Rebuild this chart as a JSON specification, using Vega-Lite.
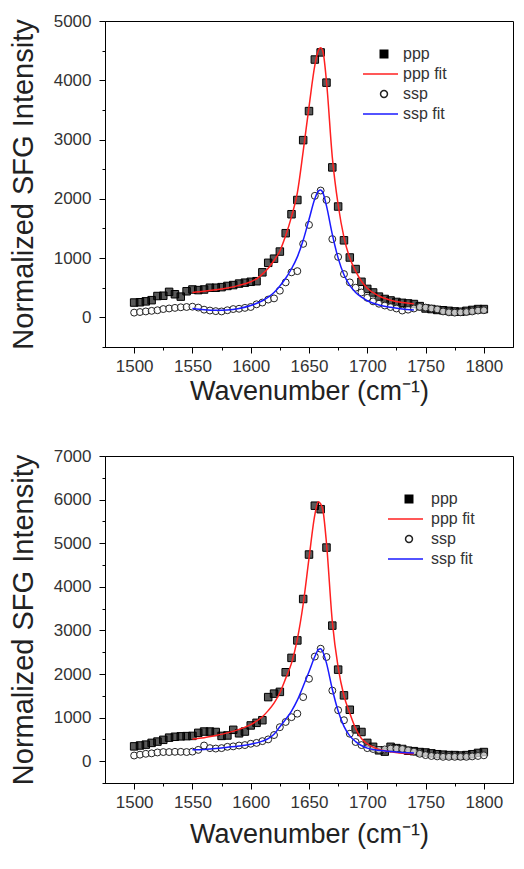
{
"$schema": "https://vega.github.io/schema/vega-lite/v6.json",
"padding": {"left": 8, "top": 11, "right": 5, "bottom": 5},
"background": "white",
"spacing": 41,
"config": {
  "view": {"stroke": "black", "strokeWidth": 1},
  "axis": {"grid": false, "labelFont": "Liberation Sans", "labelFontSize": 17, "labelColor": "#333", "titleFont": "Liberation Sans", "titleFontSize": 27, "titleFontWeight": "normal", "titleColor": "#222", "domainColor": "black", "tickColor": "black", "labelPadding": 8},
  "axisY": {"titleFontSize": 29},
  "legend": {"labelFont": "Liberation Sans", "labelFontSize": 16, "labelColor": "#333", "symbolStrokeWidth": 1.5, "rowPadding": 4, "padding": 0}
},
"datasets": {
"top": [
{"s":"ppp","x":1500,"y":250},{"s":"ppp","x":1505,"y":255},{"s":"ppp","x":1510,"y":270},{"s":"ppp","x":1515,"y":290},{"s":"ppp","x":1520,"y":360},{"s":"ppp","x":1525,"y":365},{"s":"ppp","x":1530,"y":430},{"s":"ppp","x":1535,"y":390},{"s":"ppp","x":1540,"y":350},{"s":"ppp","x":1545,"y":440},{"s":"ppp","x":1550,"y":470},{"s":"ppp","x":1555,"y":460},{"s":"ppp","x":1560,"y":470},{"s":"ppp","x":1565,"y":500},{"s":"ppp","x":1570,"y":500},{"s":"ppp","x":1575,"y":510},{"s":"ppp","x":1580,"y":530},{"s":"ppp","x":1585,"y":545},{"s":"ppp","x":1590,"y":570},{"s":"ppp","x":1595,"y":585},{"s":"ppp","x":1600,"y":600},{"s":"ppp","x":1605,"y":610},{"s":"ppp","x":1610,"y":760},{"s":"ppp","x":1615,"y":920},{"s":"ppp","x":1620,"y":990},{"s":"ppp","x":1625,"y":1110},{"s":"ppp","x":1630,"y":1420},{"s":"ppp","x":1635,"y":1740},{"s":"ppp","x":1640,"y":1980},{"s":"ppp","x":1645,"y":2990},{"s":"ppp","x":1650,"y":3480},{"s":"ppp","x":1655,"y":4350},{"s":"ppp","x":1660,"y":4470},{"s":"ppp","x":1665,"y":3960},{"s":"ppp","x":1670,"y":2530},{"s":"ppp","x":1675,"y":1870},{"s":"ppp","x":1680,"y":1300},{"s":"ppp","x":1685,"y":1010},{"s":"ppp","x":1690,"y":815},{"s":"ppp","x":1695,"y":600},{"s":"ppp","x":1700,"y":480},{"s":"ppp","x":1705,"y":420},{"s":"ppp","x":1710,"y":350},{"s":"ppp","x":1715,"y":310},{"s":"ppp","x":1720,"y":285},{"s":"ppp","x":1725,"y":260},{"s":"ppp","x":1730,"y":245},{"s":"ppp","x":1735,"y":235},{"s":"ppp","x":1740,"y":225},{"s":"ppp","x":1745,"y":190},{"s":"ppp","x":1750,"y":150},{"s":"ppp","x":1755,"y":140},{"s":"ppp","x":1760,"y":125},{"s":"ppp","x":1765,"y":120},{"s":"ppp","x":1770,"y":110},{"s":"ppp","x":1775,"y":100},{"s":"ppp","x":1780,"y":95},{"s":"ppp","x":1785,"y":110},{"s":"ppp","x":1790,"y":125},{"s":"ppp","x":1795,"y":140},{"s":"ppp","x":1800,"y":140},
{"s":"ssp","x":1500,"y":80},{"s":"ssp","x":1505,"y":90},{"s":"ssp","x":1510,"y":100},{"s":"ssp","x":1515,"y":110},{"s":"ssp","x":1520,"y":120},{"s":"ssp","x":1525,"y":140},{"s":"ssp","x":1530,"y":150},{"s":"ssp","x":1535,"y":160},{"s":"ssp","x":1540,"y":170},{"s":"ssp","x":1545,"y":175},{"s":"ssp","x":1550,"y":180},{"s":"ssp","x":1555,"y":165},{"s":"ssp","x":1560,"y":130},{"s":"ssp","x":1565,"y":115},{"s":"ssp","x":1570,"y":105},{"s":"ssp","x":1575,"y":100},{"s":"ssp","x":1580,"y":120},{"s":"ssp","x":1585,"y":140},{"s":"ssp","x":1590,"y":145},{"s":"ssp","x":1595,"y":160},{"s":"ssp","x":1600,"y":175},{"s":"ssp","x":1605,"y":220},{"s":"ssp","x":1610,"y":250},{"s":"ssp","x":1615,"y":300},{"s":"ssp","x":1620,"y":320},{"s":"ssp","x":1625,"y":450},{"s":"ssp","x":1630,"y":590},{"s":"ssp","x":1635,"y":760},{"s":"ssp","x":1640,"y":780},{"s":"ssp","x":1645,"y":1240},{"s":"ssp","x":1650,"y":1560},{"s":"ssp","x":1655,"y":2050},{"s":"ssp","x":1660,"y":2140},{"s":"ssp","x":1665,"y":1980},{"s":"ssp","x":1670,"y":1320},{"s":"ssp","x":1675,"y":1020},{"s":"ssp","x":1680,"y":730},{"s":"ssp","x":1685,"y":590},{"s":"ssp","x":1690,"y":500},{"s":"ssp","x":1695,"y":420},{"s":"ssp","x":1700,"y":330},{"s":"ssp","x":1705,"y":270},{"s":"ssp","x":1710,"y":230},{"s":"ssp","x":1715,"y":200},{"s":"ssp","x":1720,"y":175},{"s":"ssp","x":1725,"y":150},{"s":"ssp","x":1730,"y":115},{"s":"ssp","x":1735,"y":130},{"s":"ssp","x":1740,"y":150},{"s":"ssp","x":1745,"y":175},{"s":"ssp","x":1750,"y":165},{"s":"ssp","x":1755,"y":150},{"s":"ssp","x":1760,"y":135},{"s":"ssp","x":1765,"y":100},{"s":"ssp","x":1770,"y":85},{"s":"ssp","x":1775,"y":80},{"s":"ssp","x":1780,"y":85},{"s":"ssp","x":1785,"y":90},{"s":"ssp","x":1790,"y":100},{"s":"ssp","x":1795,"y":115},{"s":"ssp","x":1800,"y":120},
{"s":"ppp fit","x":1550,"y":420},{"s":"ppp fit","x":1560,"y":440},{"s":"ppp fit","x":1570,"y":465},{"s":"ppp fit","x":1580,"y":495},{"s":"ppp fit","x":1590,"y":540},{"s":"ppp fit","x":1600,"y":600},{"s":"ppp fit","x":1605,"y":650},{"s":"ppp fit","x":1610,"y":730},{"s":"ppp fit","x":1615,"y":830},{"s":"ppp fit","x":1620,"y":960},{"s":"ppp fit","x":1625,"y":1120},{"s":"ppp fit","x":1630,"y":1380},{"s":"ppp fit","x":1635,"y":1700},{"s":"ppp fit","x":1640,"y":2100},{"s":"ppp fit","x":1645,"y":2800},{"s":"ppp fit","x":1650,"y":3550},{"s":"ppp fit","x":1655,"y":4250},{"s":"ppp fit","x":1658,"y":4500},{"s":"ppp fit","x":1660,"y":4550},{"s":"ppp fit","x":1662,"y":4480},{"s":"ppp fit","x":1665,"y":3980},{"s":"ppp fit","x":1670,"y":2700},{"s":"ppp fit","x":1675,"y":1900},{"s":"ppp fit","x":1680,"y":1350},{"s":"ppp fit","x":1685,"y":1000},{"s":"ppp fit","x":1690,"y":780},{"s":"ppp fit","x":1695,"y":610},{"s":"ppp fit","x":1700,"y":490},{"s":"ppp fit","x":1710,"y":360},{"s":"ppp fit","x":1720,"y":290},{"s":"ppp fit","x":1730,"y":250},{"s":"ppp fit","x":1740,"y":230},
{"s":"ssp fit","x":1550,"y":150},{"s":"ssp fit","x":1560,"y":130},{"s":"ssp fit","x":1570,"y":120},{"s":"ssp fit","x":1580,"y":125},{"s":"ssp fit","x":1590,"y":150},{"s":"ssp fit","x":1600,"y":200},{"s":"ssp fit","x":1610,"y":280},{"s":"ssp fit","x":1615,"y":340},{"s":"ssp fit","x":1620,"y":420},{"s":"ssp fit","x":1625,"y":530},{"s":"ssp fit","x":1630,"y":660},{"s":"ssp fit","x":1635,"y":820},{"s":"ssp fit","x":1640,"y":1020},{"s":"ssp fit","x":1645,"y":1300},{"s":"ssp fit","x":1650,"y":1650},{"s":"ssp fit","x":1655,"y":2000},{"s":"ssp fit","x":1658,"y":2130},{"s":"ssp fit","x":1660,"y":2150},{"s":"ssp fit","x":1662,"y":2100},{"s":"ssp fit","x":1665,"y":1880},{"s":"ssp fit","x":1670,"y":1400},{"s":"ssp fit","x":1675,"y":1000},{"s":"ssp fit","x":1680,"y":720},{"s":"ssp fit","x":1685,"y":540},{"s":"ssp fit","x":1690,"y":420},{"s":"ssp fit","x":1695,"y":340},{"s":"ssp fit","x":1700,"y":280},{"s":"ssp fit","x":1710,"y":210},{"s":"ssp fit","x":1720,"y":170},{"s":"ssp fit","x":1730,"y":140},{"s":"ssp fit","x":1740,"y":125}
],
"bot": [
{"s":"ppp","x":1500,"y":340},{"s":"ppp","x":1505,"y":360},{"s":"ppp","x":1510,"y":380},{"s":"ppp","x":1515,"y":420},{"s":"ppp","x":1520,"y":450},{"s":"ppp","x":1525,"y":490},{"s":"ppp","x":1530,"y":540},{"s":"ppp","x":1535,"y":560},{"s":"ppp","x":1540,"y":570},{"s":"ppp","x":1545,"y":575},{"s":"ppp","x":1550,"y":580},{"s":"ppp","x":1555,"y":650},{"s":"ppp","x":1560,"y":680},{"s":"ppp","x":1565,"y":680},{"s":"ppp","x":1570,"y":670},{"s":"ppp","x":1575,"y":580},{"s":"ppp","x":1580,"y":590},{"s":"ppp","x":1585,"y":720},{"s":"ppp","x":1590,"y":640},{"s":"ppp","x":1595,"y":680},{"s":"ppp","x":1600,"y":820},{"s":"ppp","x":1605,"y":880},{"s":"ppp","x":1610,"y":940},{"s":"ppp","x":1615,"y":1470},{"s":"ppp","x":1620,"y":1550},{"s":"ppp","x":1625,"y":1590},{"s":"ppp","x":1630,"y":2040},{"s":"ppp","x":1635,"y":2370},{"s":"ppp","x":1640,"y":2770},{"s":"ppp","x":1645,"y":3720},{"s":"ppp","x":1650,"y":4740},{"s":"ppp","x":1655,"y":5860},{"s":"ppp","x":1660,"y":5780},{"s":"ppp","x":1665,"y":4900},{"s":"ppp","x":1670,"y":3110},{"s":"ppp","x":1675,"y":2100},{"s":"ppp","x":1680,"y":1510},{"s":"ppp","x":1685,"y":1180},{"s":"ppp","x":1690,"y":730},{"s":"ppp","x":1695,"y":670},{"s":"ppp","x":1700,"y":420},{"s":"ppp","x":1705,"y":330},{"s":"ppp","x":1710,"y":250},{"s":"ppp","x":1715,"y":220},{"s":"ppp","x":1720,"y":330},{"s":"ppp","x":1725,"y":300},{"s":"ppp","x":1730,"y":280},{"s":"ppp","x":1735,"y":240},{"s":"ppp","x":1740,"y":230},{"s":"ppp","x":1745,"y":210},{"s":"ppp","x":1750,"y":200},{"s":"ppp","x":1755,"y":180},{"s":"ppp","x":1760,"y":160},{"s":"ppp","x":1765,"y":150},{"s":"ppp","x":1770,"y":140},{"s":"ppp","x":1775,"y":140},{"s":"ppp","x":1780,"y":130},{"s":"ppp","x":1785,"y":140},{"s":"ppp","x":1790,"y":160},{"s":"ppp","x":1795,"y":190},{"s":"ppp","x":1800,"y":210},
{"s":"ssp","x":1500,"y":130},{"s":"ssp","x":1505,"y":150},{"s":"ssp","x":1510,"y":170},{"s":"ssp","x":1515,"y":180},{"s":"ssp","x":1520,"y":200},{"s":"ssp","x":1525,"y":210},{"s":"ssp","x":1530,"y":210},{"s":"ssp","x":1535,"y":215},{"s":"ssp","x":1540,"y":215},{"s":"ssp","x":1545,"y":210},{"s":"ssp","x":1550,"y":220},{"s":"ssp","x":1555,"y":260},{"s":"ssp","x":1560,"y":360},{"s":"ssp","x":1565,"y":300},{"s":"ssp","x":1570,"y":290},{"s":"ssp","x":1575,"y":300},{"s":"ssp","x":1580,"y":330},{"s":"ssp","x":1585,"y":340},{"s":"ssp","x":1590,"y":360},{"s":"ssp","x":1595,"y":370},{"s":"ssp","x":1600,"y":400},{"s":"ssp","x":1605,"y":420},{"s":"ssp","x":1610,"y":460},{"s":"ssp","x":1615,"y":500},{"s":"ssp","x":1620,"y":600},{"s":"ssp","x":1625,"y":780},{"s":"ssp","x":1630,"y":900},{"s":"ssp","x":1635,"y":1010},{"s":"ssp","x":1640,"y":1090},{"s":"ssp","x":1645,"y":1470},{"s":"ssp","x":1650,"y":1890},{"s":"ssp","x":1655,"y":2400},{"s":"ssp","x":1660,"y":2580},{"s":"ssp","x":1665,"y":2390},{"s":"ssp","x":1670,"y":1620},{"s":"ssp","x":1675,"y":1170},{"s":"ssp","x":1680,"y":940},{"s":"ssp","x":1685,"y":630},{"s":"ssp","x":1690,"y":440},{"s":"ssp","x":1695,"y":370},{"s":"ssp","x":1700,"y":300},{"s":"ssp","x":1705,"y":280},{"s":"ssp","x":1710,"y":260},{"s":"ssp","x":1715,"y":270},{"s":"ssp","x":1720,"y":290},{"s":"ssp","x":1725,"y":290},{"s":"ssp","x":1730,"y":280},{"s":"ssp","x":1735,"y":250},{"s":"ssp","x":1740,"y":220},{"s":"ssp","x":1745,"y":170},{"s":"ssp","x":1750,"y":140},{"s":"ssp","x":1755,"y":120},{"s":"ssp","x":1760,"y":110},{"s":"ssp","x":1765,"y":100},{"s":"ssp","x":1770,"y":100},{"s":"ssp","x":1775,"y":100},{"s":"ssp","x":1780,"y":100},{"s":"ssp","x":1785,"y":100},{"s":"ssp","x":1790,"y":110},{"s":"ssp","x":1795,"y":120},{"s":"ssp","x":1800,"y":135},
{"s":"ppp fit","x":1550,"y":510},{"s":"ppp fit","x":1560,"y":540},{"s":"ppp fit","x":1570,"y":590},{"s":"ppp fit","x":1580,"y":650},{"s":"ppp fit","x":1590,"y":730},{"s":"ppp fit","x":1600,"y":840},{"s":"ppp fit","x":1610,"y":1020},{"s":"ppp fit","x":1615,"y":1160},{"s":"ppp fit","x":1620,"y":1330},{"s":"ppp fit","x":1625,"y":1570},{"s":"ppp fit","x":1630,"y":1900},{"s":"ppp fit","x":1635,"y":2250},{"s":"ppp fit","x":1640,"y":2800},{"s":"ppp fit","x":1645,"y":3600},{"s":"ppp fit","x":1650,"y":4650},{"s":"ppp fit","x":1655,"y":5650},{"s":"ppp fit","x":1658,"y":5950},{"s":"ppp fit","x":1660,"y":5900},{"s":"ppp fit","x":1662,"y":5750},{"s":"ppp fit","x":1665,"y":5000},{"s":"ppp fit","x":1670,"y":3200},{"s":"ppp fit","x":1675,"y":2150},{"s":"ppp fit","x":1680,"y":1500},{"s":"ppp fit","x":1685,"y":1100},{"s":"ppp fit","x":1690,"y":750},{"s":"ppp fit","x":1695,"y":520},{"s":"ppp fit","x":1700,"y":400},{"s":"ppp fit","x":1710,"y":270},{"s":"ppp fit","x":1720,"y":215},{"s":"ppp fit","x":1730,"y":185},{"s":"ppp fit","x":1740,"y":170},
{"s":"ssp fit","x":1550,"y":260},{"s":"ssp fit","x":1560,"y":270},{"s":"ssp fit","x":1570,"y":290},{"s":"ssp fit","x":1580,"y":320},{"s":"ssp fit","x":1590,"y":350},{"s":"ssp fit","x":1600,"y":390},{"s":"ssp fit","x":1610,"y":460},{"s":"ssp fit","x":1615,"y":520},{"s":"ssp fit","x":1620,"y":620},{"s":"ssp fit","x":1625,"y":790},{"s":"ssp fit","x":1630,"y":960},{"s":"ssp fit","x":1635,"y":1150},{"s":"ssp fit","x":1640,"y":1400},{"s":"ssp fit","x":1645,"y":1720},{"s":"ssp fit","x":1650,"y":2050},{"s":"ssp fit","x":1655,"y":2400},{"s":"ssp fit","x":1658,"y":2560},{"s":"ssp fit","x":1660,"y":2580},{"s":"ssp fit","x":1662,"y":2500},{"s":"ssp fit","x":1665,"y":2250},{"s":"ssp fit","x":1670,"y":1650},{"s":"ssp fit","x":1675,"y":1150},{"s":"ssp fit","x":1680,"y":800},{"s":"ssp fit","x":1685,"y":580},{"s":"ssp fit","x":1690,"y":450},{"s":"ssp fit","x":1695,"y":360},{"s":"ssp fit","x":1700,"y":300},{"s":"ssp fit","x":1710,"y":250},{"s":"ssp fit","x":1720,"y":220},{"s":"ssp fit","x":1730,"y":200},{"s":"ssp fit","x":1740,"y":190}
]
},
"resolve": {"scale": {"stroke": "independent", "fill": "independent", "shape": "independent", "size": "independent"}, "legend": {"stroke": "independent", "fill": "independent", "shape": "independent", "size": "independent"}},
"vconcat": [
{
  "width": 408, "height": 326,
  "data": {"name": "top"},
  "encoding": {
    "x": {"field": "x", "type": "quantitative", "scale": {"domain": [1475, 1825], "nice": false, "zero": false},
      "axis": {"title": "Wavenumber (cm⁻¹)", "values": [1500,1525,1550,1575,1600,1625,1650,1675,1700,1725,1750,1775,1800], "labelExpr": "datum.value % 50 === 0 ? datum.value : ''", "tickSize": {"condition": {"test": "datum.value % 50 === 0", "value": 6}, "value": 3}, "labelPadding": 5, "titlePadding": 4}},
    "y": {"field": "y", "type": "quantitative", "scale": {"domain": [-500, 5000], "nice": false, "zero": false},
      "axis": {"title": "Normalized SFG Intensity", "values": [-500,0,500,1000,1500,2000,2500,3000,3500,4000,4500,5000], "labelExpr": "datum.value % 1000 === 0 ? datum.value : ''", "tickSize": {"condition": {"test": "datum.value % 1000 === 0", "value": 6}, "value": 3}, "titlePadding": 15}}
  },
  "layer": [
    {"transform": [{"filter": "datum.s === 'ppp' || datum.s === 'ssp'"}],
     "mark": {"type": "point", "opacity": 1, "strokeWidth": 1, "fillOpacity": 0.65},
     "encoding": {
       "stroke": {"field": "s", "type": "nominal", "scale": {"domain": ["ppp","ppp fit","ssp","ssp fit"], "range": ["black","#ff2020","#222","#1a1aff"]}, "legend": {"orient": "none", "legendX": 271, "legendY": 25, "title": null, "labelOffset": 11}},
       "fill": {"field": "s", "type": "nominal", "scale": {"domain": ["ppp","ppp fit","ssp","ssp fit"], "range": ["black","transparent","white","transparent"]}, "legend": {"orient": "none", "legendX": 271, "legendY": 25, "title": null, "labelOffset": 11}},
       "shape": {"field": "s", "type": "nominal", "scale": {"domain": ["ppp","ppp fit","ssp","ssp fit"], "range": ["square","M-6,0H4","circle","M-6,0H4"]}, "legend": {"orient": "none", "legendX": 271, "legendY": 25, "title": null, "labelOffset": 11}},
       "size": {"field": "s", "type": "nominal", "scale": {"type": "ordinal", "domain": ["ppp","ppp fit","ssp","ssp fit"], "range": [56, 49, 48, 49]}, "legend": {"orient": "none", "legendX": 271, "legendY": 25, "title": null, "labelOffset": 11}}
     }},
    {"transform": [{"filter": "datum.s === 'ppp fit' || datum.s === 'ssp fit'"}],
     "mark": {"type": "line", "strokeWidth": 1.5, "interpolate": "monotone"},
     "encoding": {
       "stroke": {"field": "s", "type": "nominal", "scale": {"domain": ["ppp","ppp fit","ssp","ssp fit"], "range": ["black","#ff2020","#222","#1a1aff"]}, "legend": {"orient": "none", "legendX": 271, "legendY": 25, "title": null, "labelOffset": 11}}
     }}
  ]
},
{
  "width": 408, "height": 327,
  "data": {"name": "bot"},
  "encoding": {
    "x": {"field": "x", "type": "quantitative", "scale": {"domain": [1475, 1825], "nice": false, "zero": false},
      "axis": {"title": "Wavenumber (cm⁻¹)", "values": [1500,1525,1550,1575,1600,1625,1650,1675,1700,1725,1750,1775,1800], "labelExpr": "datum.value % 50 === 0 ? datum.value : ''", "tickSize": {"condition": {"test": "datum.value % 50 === 0", "value": 6}, "value": 3}, "labelPadding": 5, "titlePadding": 11}},
    "y": {"field": "y", "type": "quantitative", "scale": {"domain": [-500, 7000], "nice": false, "zero": false},
      "axis": {"title": "Normalized SFG Intensity", "values": [-500,0,500,1000,1500,2000,2500,3000,3500,4000,4500,5000,5500,6000,6500,7000], "labelExpr": "datum.value % 1000 === 0 ? datum.value : ''", "tickSize": {"condition": {"test": "datum.value % 1000 === 0", "value": 6}, "value": 3}, "titlePadding": 15}}
  },
  "layer": [
    {"transform": [{"filter": "datum.s === 'ppp' || datum.s === 'ssp'"}],
     "mark": {"type": "point", "opacity": 1, "strokeWidth": 1, "fillOpacity": 0.65},
     "encoding": {
       "stroke": {"field": "s", "type": "nominal", "scale": {"domain": ["ppp","ppp fit","ssp","ssp fit"], "range": ["black","#ff2020","#222","#1a1aff"]}, "legend": {"orient": "none", "legendX": 296, "legendY": 35, "title": null, "labelOffset": 14}},
       "fill": {"field": "s", "type": "nominal", "scale": {"domain": ["ppp","ppp fit","ssp","ssp fit"], "range": ["black","transparent","white","transparent"]}, "legend": {"orient": "none", "legendX": 296, "legendY": 35, "title": null, "labelOffset": 14}},
       "shape": {"field": "s", "type": "nominal", "scale": {"domain": ["ppp","ppp fit","ssp","ssp fit"], "range": ["square","M-6,0H4","circle","M-6,0H4"]}, "legend": {"orient": "none", "legendX": 296, "legendY": 35, "title": null, "labelOffset": 14}},
       "size": {"field": "s", "type": "nominal", "scale": {"type": "ordinal", "domain": ["ppp","ppp fit","ssp","ssp fit"], "range": [56, 49, 48, 49]}, "legend": {"orient": "none", "legendX": 296, "legendY": 35, "title": null, "labelOffset": 14}}
     }},
    {"transform": [{"filter": "datum.s === 'ppp fit' || datum.s === 'ssp fit'"}],
     "mark": {"type": "line", "strokeWidth": 1.5, "interpolate": "monotone"},
     "encoding": {
       "stroke": {"field": "s", "type": "nominal", "scale": {"domain": ["ppp","ppp fit","ssp","ssp fit"], "range": ["black","#ff2020","#222","#1a1aff"]}, "legend": {"orient": "none", "legendX": 296, "legendY": 35, "title": null, "labelOffset": 14}}
     }}
  ]
}
]
}
